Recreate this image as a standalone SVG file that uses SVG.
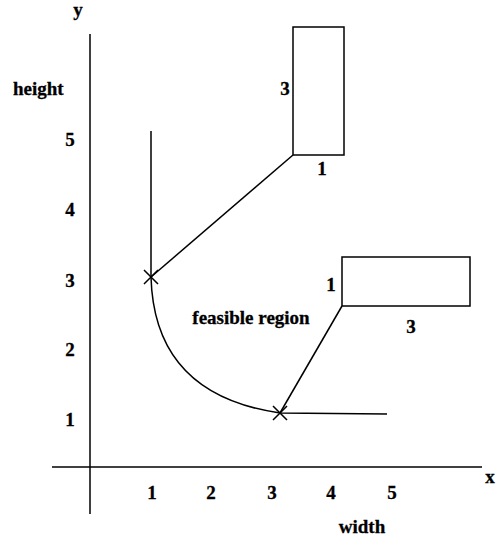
<svg xmlns="http://www.w3.org/2000/svg" width="497" height="540" viewBox="0 0 497 540">
<style>
.t{font-family:"Liberation Serif","Times New Roman",serif;font-weight:bold;font-size:19px;fill:#000;stroke:#000;stroke-width:0.3}
.l{stroke:#000;stroke-width:1.5;fill:none}
</style>
<rect width="497" height="540" fill="#fff"/>
<g id="axes">
<line class="l" x1="90" y1="34" x2="90" y2="514"/>
<line class="l" x1="52" y1="467" x2="482" y2="467"/>
</g>
<g id="labels">
<text class="t" x="78" y="16" text-anchor="middle">y</text>
<text class="t" x="13" y="95">height</text>
<text class="t" x="70" y="146" text-anchor="middle">5</text>
<text class="t" x="70" y="216" text-anchor="middle">4</text>
<text class="t" x="70" y="287" text-anchor="middle">3</text>
<text class="t" x="70" y="356" text-anchor="middle">2</text>
<text class="t" x="70" y="426" text-anchor="middle">1</text>
<text class="t" x="152" y="499" text-anchor="middle">1</text>
<text class="t" x="211" y="499" text-anchor="middle">2</text>
<text class="t" x="272" y="499" text-anchor="middle">3</text>
<text class="t" x="331" y="499" text-anchor="middle">4</text>
<text class="t" x="392" y="499" text-anchor="middle">5</text>
<text class="t" x="490" y="483" text-anchor="middle">x</text>
<text class="t" x="362" y="533" text-anchor="middle">width</text>
<text class="t" x="251" y="324" text-anchor="middle">feasible region</text>
</g>
<g id="curve">
<path class="l" d="M151,131 L151,277 C153,350 190,400 280,413 L387,414"/>
<path class="l" d="M144,270 L158,284 M144,284 L158,270"/>
<path class="l" d="M273,406 L287,420 M273,420 L287,406"/>
</g>
<g id="rect-tall">
<rect class="l" x="293" y="27" width="51" height="128"/>
<text class="t" x="285" y="95" text-anchor="middle">3</text>
<text class="t" x="322" y="175" text-anchor="middle">1</text>
</g>
<g id="rect-wide">
<rect class="l" x="342" y="257" width="128" height="49"/>
<text class="t" x="331" y="291" text-anchor="middle">1</text>
<text class="t" x="411" y="333" text-anchor="middle">3</text>
</g>
<g id="connectors">
<line class="l" x1="293" y1="155" x2="151" y2="277"/>
<line class="l" x1="342" y1="306" x2="280" y2="413"/>
</g>
</svg>
